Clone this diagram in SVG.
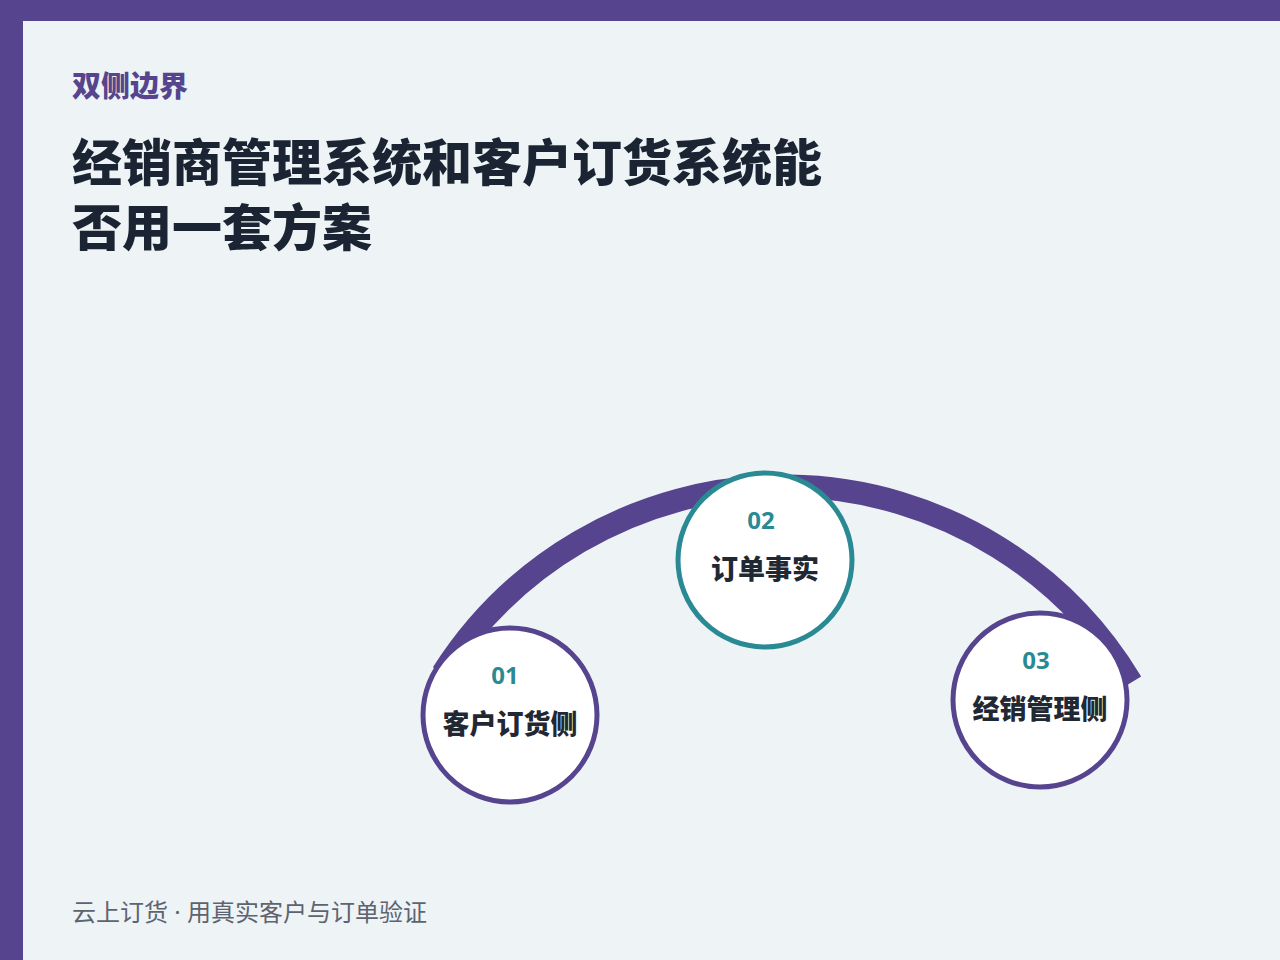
<svg xmlns="http://www.w3.org/2000/svg" width="1280" height="960" viewBox="0 0 1280 960">
  <style>
    .cjk { font-family: "Noto Sans CJK SC", "Noto Sans", sans-serif; }
    .title { font-size: 50px; font-weight: 900; fill: #1b2432; }
    .eyebrow { font-size: 29px; font-weight: 900; fill: #56448f; }
    .footer { font-size: 24px; font-weight: 400; fill: #5d6470; }
    .lat { font-family: "Noto Sans", "Liberation Sans", sans-serif; }
    .num { font-family: "Open Sans", "Noto Sans", sans-serif; font-size: 24px; font-weight: 700; fill: #2a8a93; text-anchor: middle; }
    .label { font-size: 27px; font-weight: 900; fill: #1f2833; text-anchor: middle; }
    .node-purple { fill: #ffffff; stroke: #56448f; stroke-width: 5; }
    .node-teal { fill: #ffffff; stroke: #2a8a93; stroke-width: 5; }
    .arc { fill: none; stroke: #56448f; stroke-width: 23; }
  </style>
  <rect x="0" y="0" width="1280" height="960" fill="#eef3f6"/>
  <rect x="0" y="0" width="1280" height="21" fill="#56448f"/>
  <rect x="0" y="0" width="23" height="960" fill="#56448f"/>

  <text class="cjk eyebrow" x="72" y="97">双侧边界</text>
  <text class="cjk title" x="72" y="181">经销商管理系统和客户订货系统能</text>
  <text class="cjk title" x="72" y="246">否用一套方案</text>

  <g id="connectors">
    <path class="arc" d="M 442.6 673.4 A 405 405 0 0 1 1131.3 682.5"/>
  </g>

  <g id="node-01">
    <circle class="node-purple" cx="510" cy="715" r="87"/>
    <text class="num" x="505" y="684">01</text>
    <text class="cjk label" x="510" y="734">客户订货侧</text>
  </g>
  <g id="node-02">
    <circle class="node-teal" cx="765" cy="560" r="87"/>
    <text class="num" x="761" y="529">02</text>
    <text class="cjk label" x="765" y="579">订单事实</text>
  </g>
  <g id="node-03">
    <circle class="node-purple" cx="1040" cy="700" r="87"/>
    <text class="num" x="1036" y="669">03</text>
    <text class="cjk label" x="1040" y="719">经销管理侧</text>
  </g>

  <text class="cjk footer" x="72" y="921">云上订货<tspan class="lat"> · </tspan>用真实客户与订单验证</text>
</svg>
